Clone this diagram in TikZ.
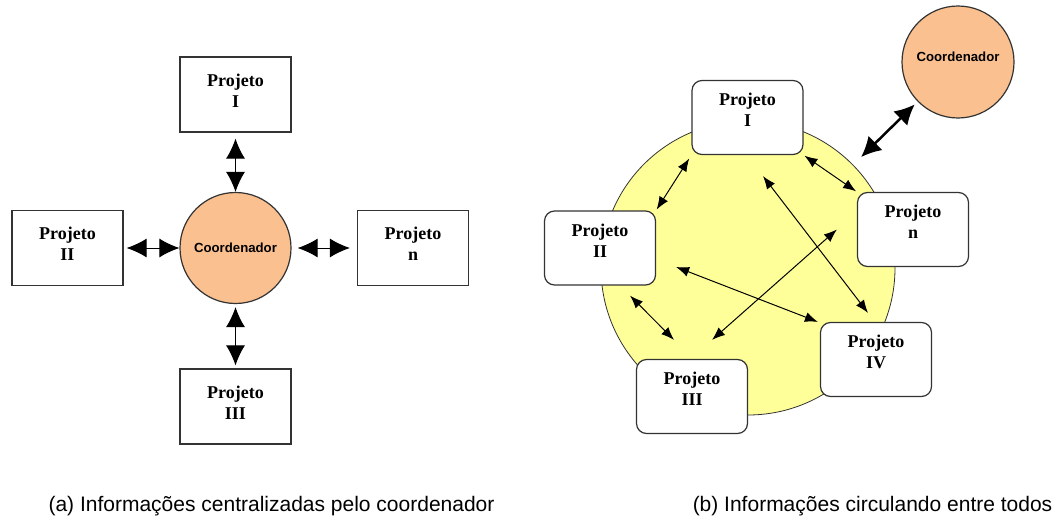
\documentclass[tikz,border=0pt]{standalone}
\usepackage{fontspec}
\setmainfont{Liberation Serif}
\newfontfamily\capfont{Liberation Sans}
\usetikzlibrary{arrows.meta,positioning}
\definecolor{coordfill}{RGB}{250,192,143}
\definecolor{ringfill}{RGB}{255,255,153}
\tikzset{
	x=1pt, y=-1pt,
	on grid,
	projbox/.style={draw=black!80, line width=1.2pt, fill=white,
		minimum width=111pt, minimum height=75pt, align=center,
		font=\fontsize{18}{21}\selectfont\bfseries,
		text height=35pt, text depth=10pt},
	projround/.style={projbox, rounded corners=10pt, minimum height=74pt,
		text depth=17pt},
	coord/.style={circle, draw=black!80, line width=1.2pt, fill=coordfill,
		font=\capfont\fontsize{13.2}{15}\selectfont\bfseries},
	bigarrow/.style={{Latex[length=20pt,width=19pt]}-{Latex[length=20pt,width=19pt]}, line width=1pt},
	smallarrow/.style={{Latex[length=13pt,width=10pt]}-{Latex[length=13pt,width=10pt]}, line width=1pt},
	caption/.style={font=\capfont\fontsize{21}{25}\selectfont, anchor=base},
}
\begin{document}
\begin{tikzpicture}
\useasboundingbox (0,0) rectangle (1059,519);

% (a) centralizado
\node[coord, minimum size=111pt] (coorda) at (235.5,248) {Coordenador};
\node[projbox, above=153.5pt of coorda] (aI) {Projeto\\I};
\node[projbox, left=168pt of coorda] (aII) {Projeto\\II};
\node[projbox, right=177.5pt of coorda] (an) {Projeto\\n};
\node[projbox, below=158.5pt of coorda] (aIII) {Projeto\\III};

\draw[bigarrow, shorten <=6pt] (aI) -- (coorda);
\draw[bigarrow, shorten <=3pt, shorten >=3pt] (coorda) -- (aIII);
\draw[bigarrow, shorten <=3pt] (aII) -- (coorda);
\draw[bigarrow, shorten <=6pt, shorten >=7pt] (coorda) -- (an);

% (b) todos
\node[circle, draw=black!80, line width=0.8pt, fill=ringfill, minimum size=294pt] (ring) at (748,268) {};
\node[coord, minimum size=112pt, text height=10pt, text depth=10pt] (coordb) at (958,62) {Coordenador};

\node[projround] (bI) at (747.5,117.5) {Projeto\\I};
\node[projround] (bn) at (913,229.5) {Projeto\\n};
\node[projround] (bII) at (600,248) {Projeto\\II};
\node[projround] (bIV) at (876,359.5) {Projeto\\IV};
\node[projround] (bIII) at (692,396.5) {Projeto\\III};

\draw[{Latex[length=20pt,width=20pt]}-{Latex[length=20pt,width=20pt]}, line width=2.5pt,
	shorten <=4pt, shorten >=11pt] (coordb) -- (ring);
\draw[smallarrow, shorten <=4pt, shorten >=1pt] (bI.south west) -- (bII.north east);
\draw[smallarrow, shorten <=1pt, shorten >=1pt] (bI.south east) -- (bn.north west);
\draw[smallarrow] ([xshift=30pt,yshift=-10pt]bII.south) -- ([xshift=-18pt,yshift=19pt]bIII.north);
\draw[smallarrow] ([xshift=15.5pt,yshift=-21pt]bI.south) -- ([xshift=-8pt,yshift=9pt]bIV.north);
\draw[smallarrow] ([xshift=-20pt]bn.west) -- ([xshift=20pt,yshift=19pt]bIII.north);
\draw[smallarrow] ([xshift=20pt,yshift=-19pt]bII.east) -- ([xshift=-2pt]bIV.north west);

% legendas
\node[caption] (capa) at (271.5,511) {(a) Informações centralizadas pelo coordenador};
\node[caption] (capb) at (872.5,511) {(b) Informações circulando entre todos};
\end{tikzpicture}
\end{document}
